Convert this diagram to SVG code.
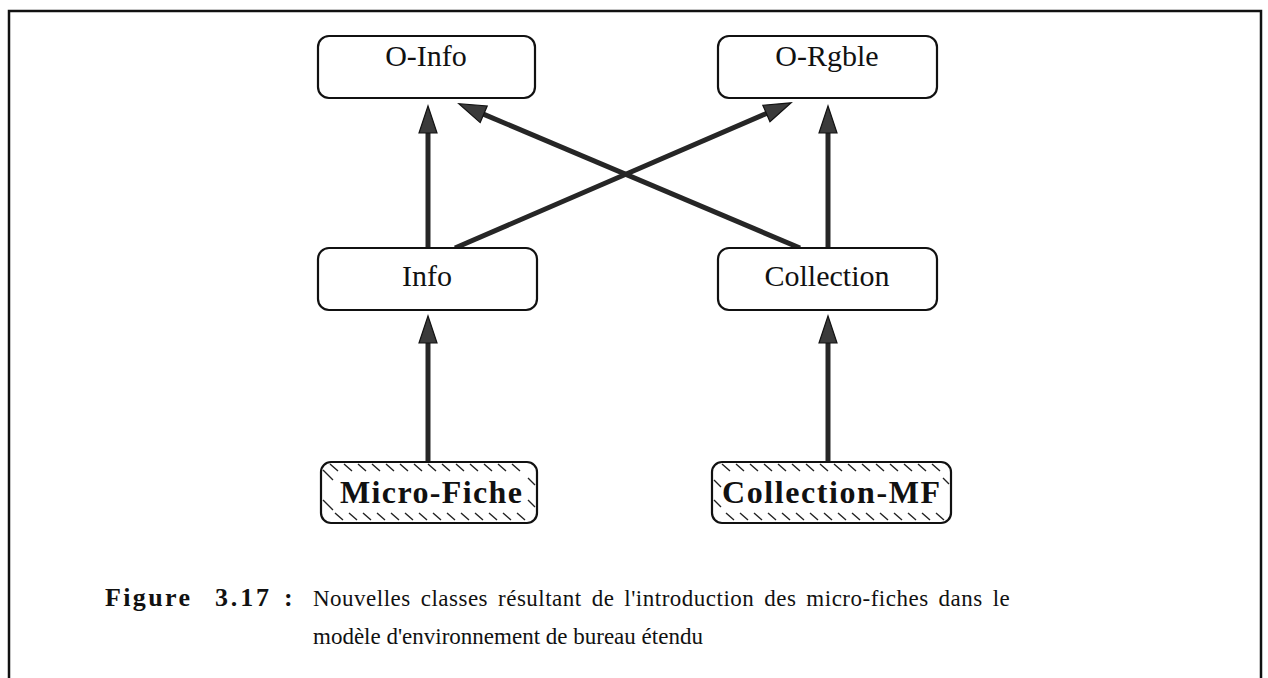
<svg xmlns="http://www.w3.org/2000/svg" width="1268" height="678" viewBox="0 0 1268 678">
  <style>
    .frame { fill: none; stroke: #111; stroke-width: 2.5; }
    .box { fill: #fff; stroke: #111; stroke-width: 2.2; }
    .lbl { font-family: "Liberation Serif", "Times New Roman", serif; font-size: 30px; fill: #111; text-anchor: middle; }
    .lblb { font-family: "Liberation Serif", "Times New Roman", serif; font-size: 32px; font-weight: bold; fill: #111; }
    .hatch { fill: none; stroke: #222; stroke-width: 1.4; }
    .edge { stroke: #262626; stroke-width: 5; fill: none; marker-end: url(#head); }
    .cap { font-family: "Liberation Serif", "Times New Roman", serif; font-size: 23px; fill: #111; }
    .capb { font-family: "Liberation Serif", "Times New Roman", serif; font-size: 26px; font-weight: bold; fill: #111; }
  </style>
  <defs>
    <marker id="head" markerUnits="userSpaceOnUse" markerWidth="30" markerHeight="20" refX="1" refY="9" orient="auto" overflow="visible">
      <path d="M0,0 L27,9 L0,18 Z" fill="#3a3a3a" stroke="#111" stroke-width="1.2"/>
    </marker>
  </defs>

  <rect class="frame" x="9" y="11" width="1252" height="672"/>

  <!-- connectors -->
  <g id="connectors">
    <line class="edge" x1="428" y1="248" x2="428" y2="132"/>
    <line class="edge" x1="828" y1="248" x2="828" y2="132"/>
    <line class="edge" x1="455" y1="248" x2="767.3" y2="113.1"/>
    <line class="edge" x1="800" y1="248" x2="482.8" y2="113.9"/>
    <line class="edge" x1="428" y1="462" x2="428" y2="342"/>
    <line class="edge" x1="828" y1="462" x2="828" y2="342"/>
  </g>

  <!-- classes -->
  <g id="o-info">
    <rect class="box" x="318" y="36" width="217" height="62" rx="11"/>
    <text class="lbl" x="426" y="66">O-Info</text>
  </g>
  <g id="o-rgble">
    <rect class="box" x="718" y="36" width="219" height="62" rx="11"/>
    <text class="lbl" x="827" y="66">O-Rgble</text>
  </g>
  <g id="info">
    <rect class="box" x="318" y="248" width="219" height="62" rx="11"/>
    <text class="lbl" x="427" y="286">Info</text>
  </g>
  <g id="collection">
    <rect class="box" x="718" y="248" width="219" height="62" rx="11"/>
    <text class="lbl" x="827" y="286">Collection</text>
  </g>

  <g id="micro-fiche">
    <rect class="box" x="321" y="462" width="216" height="61" rx="10"/>
    <path class="hatch" d="M330,464 l8,7 M344,464 l8,7 M358,464 l8,7 M372,464 l8,7 M386,464 l8,7 M400,464 l8,7 M414,464 l8,7 M428,464 l8,7 M442,464 l8,7 M456,464 l8,7 M470,464 l8,7 M484,464 l8,7 M498,464 l8,7 M512,464 l8,7
      M335,513 l8,7 M349,513 l8,7 M363,513 l8,7 M377,513 l8,7 M391,513 l8,7 M405,513 l8,7 M419,513 l8,7 M433,513 l8,7 M447,513 l8,7 M461,513 l8,7 M475,513 l8,7 M489,513 l8,7 M503,513 l8,7 M517,513 l8,7
      M323,470 l10,10 M323,500 l10,10 M528,478 l7,7 M528,500 l7,7"/>
    <text class="lblb" x="340" y="503" textLength="182" lengthAdjust="spacing">Micro-Fiche</text>
  </g>
  <g id="collection-mf">
    <rect class="box" x="712" y="462" width="239" height="61" rx="10"/>
    <path class="hatch" d="M722,464 l8,7 M736,464 l8,7 M750,464 l8,7 M764,464 l8,7 M778,464 l8,7 M792,464 l8,7 M806,464 l8,7 M820,464 l8,7 M834,464 l8,7 M848,464 l8,7 M862,464 l8,7 M876,464 l8,7 M890,464 l8,7 M904,464 l8,7 M918,464 l8,7 M932,464 l8,7
      M726,513 l8,7 M740,513 l8,7 M754,513 l8,7 M768,513 l8,7 M782,513 l8,7 M796,513 l8,7 M810,513 l8,7 M824,513 l8,7 M838,513 l8,7 M852,513 l8,7 M866,513 l8,7 M880,513 l8,7 M894,513 l8,7 M908,513 l8,7 M922,513 l8,7 M936,513 l8,7
      M714,480 l7,7 M714,500 l7,7 M943,478 l6,6"/>
    <text class="lblb" x="722" y="503" textLength="218" lengthAdjust="spacing">Collection-MF</text>
  </g>

  <!-- caption -->
  <g id="caption">
    <text class="capb" x="105" y="606" textLength="85" lengthAdjust="spacing">Figure</text>
    <text class="capb" x="215" y="606" textLength="54" lengthAdjust="spacing">3.17</text>
    <text class="capb" x="284" y="606">:</text>
    <text class="cap" x="313" y="606" letter-spacing="0.5" word-spacing="3.7">Nouvelles classes résultant de l'introduction des micro-fiches dans le</text>
    <text class="cap" x="313" y="644">modèle d'environnement de bureau étendu</text>
  </g>
</svg>
